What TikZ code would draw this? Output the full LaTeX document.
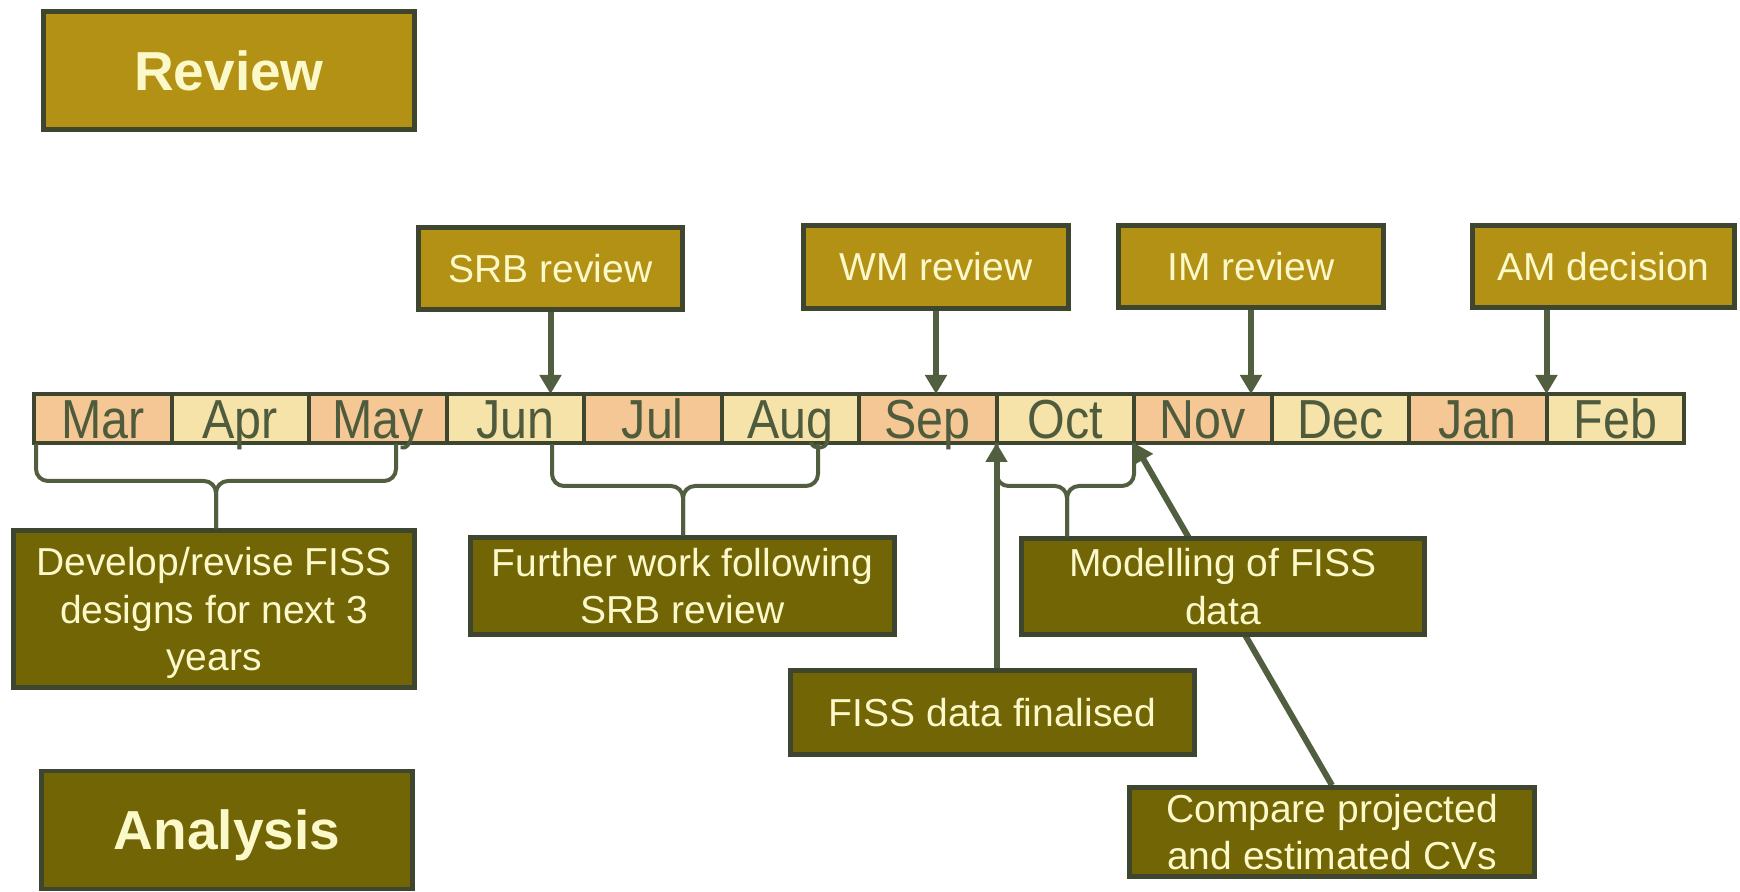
\documentclass[tikz,border=0pt]{standalone}
\usepackage{fontspec}
\setmainfont{Liberation Sans}
\newfontfamily\monthfont[FakeStretch=0.88]{Liberation Sans}
\usetikzlibrary{positioning,arrows.meta,backgrounds}

\definecolor{gold}{HTML}{B39114}
\definecolor{olive}{HTML}{716506}
\definecolor{edge}{HTML}{3E4630}
\definecolor{cream}{HTML}{FBF8C9}
\definecolor{peach}{HTML}{F5C794}
\definecolor{straw}{HTML}{F5E3A9}
\definecolor{ink}{HTML}{4F5B3D}
\definecolor{wire}{HTML}{525E40}

\tikzset{
  box/.style={draw=edge, line width=2.2pt, text=cream, inner sep=0pt, align=center,
    font=\fontsize{19.5}{23.8}\selectfont},
  reviewbox/.style={box, fill=gold},
  workbox/.style={box, fill=olive},
  titlebox/.style={minimum width=185.5pt, minimum height=59pt, text depth=0pt,
    font=\fontsize{27.5}{33}\selectfont\bfseries},
  month/.style={draw=edge, line width=2pt, outer sep=0pt, inner sep=0pt,
    minimum width=68.75pt, minimum height=24.5pt, text=ink,
    text height=19.7pt, text depth=0pt, font=\monthfont\fontsize{27.5}{30}\selectfont},
  odd/.style={month, fill=peach},
  even/.style={month, fill=straw},
  link/.style={draw=wire, line width=3pt, -{Triangle[width=10.5pt,length=9.5pt]}},
  brace/.style={draw=wire, line width=2pt, rounded corners=6pt},
}

\begin{document}
\begin{tikzpicture}[x=0.5pt,y=-0.5pt]
  \useasboundingbox (0,0) rectangle (1740,892);

  % Define nodes
  \node[reviewbox, titlebox] (review) at (229,70.5) {Review};
  \node[workbox, titlebox] (analysis) at (227,830) {Analysis};

  \node[reviewbox, minimum width=132pt, minimum height=41pt] (srb) at (550.5,268.5) {SRB review};
  \node[reviewbox, minimum width=132.5pt, minimum height=41.5pt] (wm) at (936,267) {WM review};
  \node[reviewbox, minimum width=132.5pt, minimum height=41pt] (im) at (1251,266.5) {IM review};
  \node[reviewbox, minimum width=131pt, minimum height=41pt] (am) at (1603.5,266.5) {AM decision};

  \node[odd] (mar) at (102.75,418.5) {Mar};
  \node[even, right=0pt of mar] (apr) {Apr};
  \node[odd, right=0pt of apr] (may) {May};
  \node[even, right=0pt of may] (jun) {Jun};
  \node[odd, right=0pt of jun] (jul) {Jul};
  \node[even, right=0pt of jul] (aug) {Aug};
  \node[odd, right=0pt of aug] (sep) {Sep};
  \node[even, right=0pt of sep] (oct) {Oct};
  \node[odd, right=0pt of oct] (nov) {Nov};
  \node[even, right=0pt of nov] (dec) {Dec};
  \node[odd, right=0pt of dec] (jan) {Jan};
  \node[even, right=0pt of jan] (feb) {Feb};

  \node[workbox, minimum width=200.5pt, minimum height=78.5pt, text depth=0pt] (develop) at (214,609)
    {Develop/revise FISS\\designs for next 3\\years};
  \node[workbox, minimum width=212pt, minimum height=48.5pt] (further) at (682.5,586)
    {Further work following\\SRB review};
  \node[workbox, minimum width=201.5pt, minimum height=48pt] (modelling) at (1223,586.5)
    {Modelling of FISS\\data};
  \node[workbox, minimum width=202pt, minimum height=42pt] (finalised) at (992.5,712.5)
    {FISS data finalised};
  \node[workbox, minimum width=202.5pt, minimum height=44.5pt] (compare) at (1332,832)
    {Compare projected\\and estimated CVs};

  \coordinate (b1a) at (36,444);   \coordinate (b1b) at (396,444);  \coordinate (b1m) at (216,481);
  \coordinate (b2a) at (552,444);  \coordinate (b2b) at (818,444);  \coordinate (b2m) at (683,486);
  \coordinate (b3m) at (1067,486);

  % Connect the nodes
  \draw[link] (srb.south) -- (srb.south |- jun.north);
  \draw[link] (wm.south) -- (wm.south |- sep.north);
  \draw[link] (im.south) -- (im.south |- nov.north);
  \draw[link] (jan.north east |- am.south) -- (jan.north east);
  \draw[link] (finalised.north -| sep.south east) -- (sep.south east);
  \begin{scope}[on background layer]
    \draw[link] (compare.north) -- (oct.south east);
  \end{scope}

  \draw[brace] (b1a) |- (b1m) -- (b1m |- develop.north);
  \draw[brace] (b1b) |- (b1m) -- (b1m |- develop.north);
  \draw[brace] (b2a) |- (b2m) -- (b2m |- further.north);
  \draw[brace] (b2b) |- (b2m) -- (b2m |- further.north);
  \draw[brace] (sep.south east) |- (b3m) -- (b3m |- modelling.north);
  \draw[brace] (oct.south east) |- (b3m) -- (b3m |- modelling.north);
\end{tikzpicture}
\end{document}
